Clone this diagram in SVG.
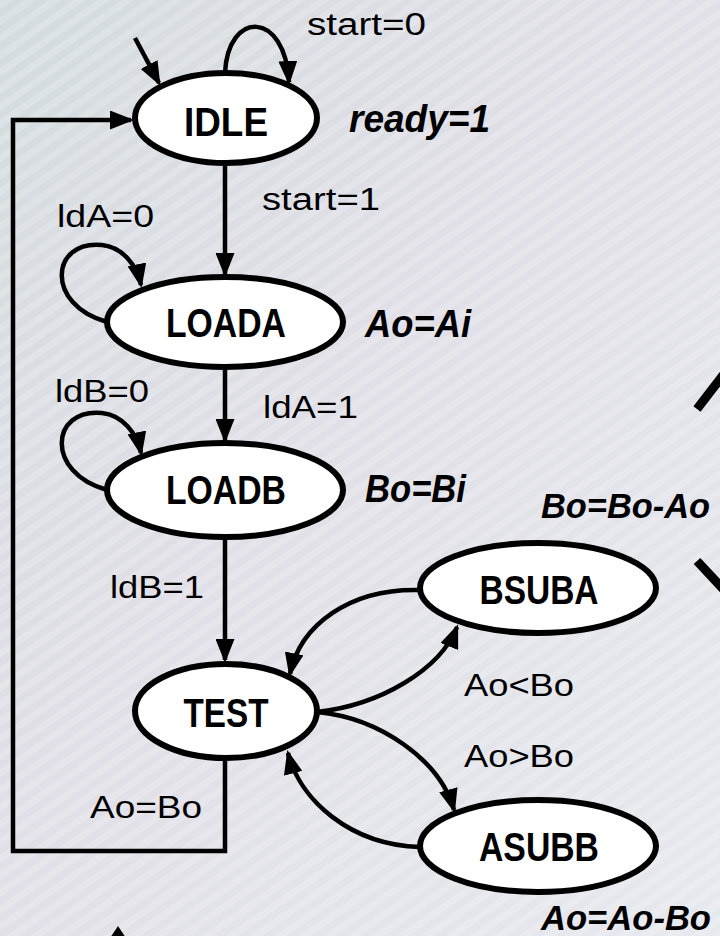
<svg xmlns="http://www.w3.org/2000/svg" width="720" height="936" viewBox="0 0 720 936">
<defs>
<linearGradient id="bg" x1="0" y1="0" x2="1" y2="1">
<stop offset="0" stop-color="#d3dcdf"/>
<stop offset="0.45" stop-color="#e1dfe7"/>
<stop offset="1" stop-color="#e6e9ee"/>
</linearGradient>
<pattern id="stripes" width="14" height="14" patternUnits="userSpaceOnUse" patternTransform="rotate(-35)">
<rect width="14" height="7" fill="#ffffff" opacity="0.18"/>
</pattern>
<marker id="ah" viewBox="0 0 24 19" refX="21" refY="9.5" markerWidth="24" markerHeight="19" markerUnits="userSpaceOnUse" orient="auto">
<path d="M0,0 L24,9.5 L0,19 z" fill="#000"/>
</marker>
<style>
.st{fill:#fff;stroke:#000;stroke-width:6}
.sl{font-family:"Liberation Sans",Arial,sans-serif;font-weight:bold;font-size:40px;fill:#000;text-anchor:middle}
.out{font-family:"Liberation Sans",Arial,sans-serif;font-weight:bold;font-style:italic;font-size:38px;fill:#000}
.outs{font-family:"Liberation Sans",Arial,sans-serif;font-weight:bold;font-style:italic;font-size:35px;fill:#000}
.cond{font-family:"Liberation Sans",Arial,sans-serif;font-size:31px;fill:#000}
.cn{fill:none;stroke:#000;stroke-width:4.5;marker-end:url(#ah)}
</style>
</defs>
<rect width="720" height="936" fill="url(#bg)"/>
<rect width="720" height="936" fill="url(#stripes)"/>

<g id="connectors">
<line class="cn" x1="135" y1="38" x2="159" y2="83"/>
<path class="cn" d="M225,73 C228,10 285,10 289,82"/>
<line class="cn" x1="225" y1="164" x2="225" y2="274"/>
<path class="cn" d="M107,322 C45,305 50,240 102,245 C122,247 137,265 141,285"/>
<line class="cn" x1="225" y1="367" x2="225" y2="440"/>
<path class="cn" d="M107,490 C45,473 50,408 102,413 C122,415 137,433 141,453"/>
<line class="cn" x1="225" y1="537" x2="225" y2="660"/>
<path class="cn" d="M420,590 C350,588 300,625 290,674"/>
<path class="cn" d="M317,712 C380,705 440,670 457,627"/>
<path class="cn" d="M317,712 C380,718 440,760 454,810"/>
<path class="cn" d="M420,847 C350,845 300,800 288,753"/>
<path class="cn" d="M225,758 V851 H13 V120 H131"/>
</g>

<g id="IDLE"><ellipse class="st" cx="226" cy="118" rx="91" ry="45"/><text class="sl" x="226" y="136" textLength="84" lengthAdjust="spacingAndGlyphs">IDLE</text></g>
<g id="LOADA"><ellipse class="st" cx="225" cy="322" rx="118" ry="45"/><text class="sl" x="226" y="337" textLength="120" lengthAdjust="spacingAndGlyphs">LOADA</text></g>
<g id="LOADB"><ellipse class="st" cx="225" cy="490" rx="118" ry="47"/><text class="sl" x="226" y="504" textLength="120" lengthAdjust="spacingAndGlyphs">LOADB</text></g>
<g id="TEST"><ellipse class="st" cx="226" cy="711" rx="91" ry="47"/><text class="sl" x="226" y="727" textLength="85" lengthAdjust="spacingAndGlyphs">TEST</text></g>
<g id="BSUBA"><ellipse class="st" cx="538" cy="588" rx="118" ry="45"/><text class="sl" x="539" y="604" textLength="119" lengthAdjust="spacingAndGlyphs">BSUBA</text></g>
<g id="ASUBB"><ellipse class="st" cx="538" cy="846" rx="118" ry="46"/><text class="sl" x="539" y="861" textLength="120" lengthAdjust="spacingAndGlyphs">ASUBB</text></g>

<g id="labels">
<text class="cond" x="307" y="35" textLength="119" lengthAdjust="spacingAndGlyphs">start=0</text>
<text class="out" x="349" y="132" textLength="141" lengthAdjust="spacingAndGlyphs">ready=1</text>
<text class="cond" x="262" y="210" textLength="118" lengthAdjust="spacingAndGlyphs">start=1</text>
<text class="cond" x="57" y="227" textLength="97" lengthAdjust="spacingAndGlyphs">ldA=0</text>
<text class="out" x="365" y="337" textLength="106" lengthAdjust="spacingAndGlyphs">Ao=Ai</text>
<text class="cond" x="263" y="418" textLength="95" lengthAdjust="spacingAndGlyphs">ldA=1</text>
<text class="cond" x="55" y="402" textLength="94" lengthAdjust="spacingAndGlyphs">ldB=0</text>
<text class="out" x="365" y="502" textLength="101" lengthAdjust="spacingAndGlyphs">Bo=Bi</text>
<text class="outs" x="541" y="518" textLength="169" lengthAdjust="spacingAndGlyphs">Bo=Bo-Ao</text>
<text class="cond" x="110" y="598" textLength="94" lengthAdjust="spacingAndGlyphs">ldB=1</text>
<text class="cond" x="464" y="696" textLength="110" lengthAdjust="spacingAndGlyphs">Ao&lt;Bo</text>
<text class="cond" x="464" y="767" textLength="110" lengthAdjust="spacingAndGlyphs">Ao&gt;Bo</text>
<text class="cond" x="90" y="818" textLength="112" lengthAdjust="spacingAndGlyphs">Ao=Bo</text>
<text class="outs" x="541" y="930" textLength="170" lengthAdjust="spacingAndGlyphs">Ao=Ao-Bo</text>
</g>

<g id="fragments">
<line x1="697" y1="409" x2="724" y2="374" stroke="#000" stroke-width="9"/>
<line x1="697" y1="561" x2="724" y2="590" stroke="#000" stroke-width="9"/>
<polygon points="118,926 110,938 126,938" fill="#000"/>
</g>
</svg>
